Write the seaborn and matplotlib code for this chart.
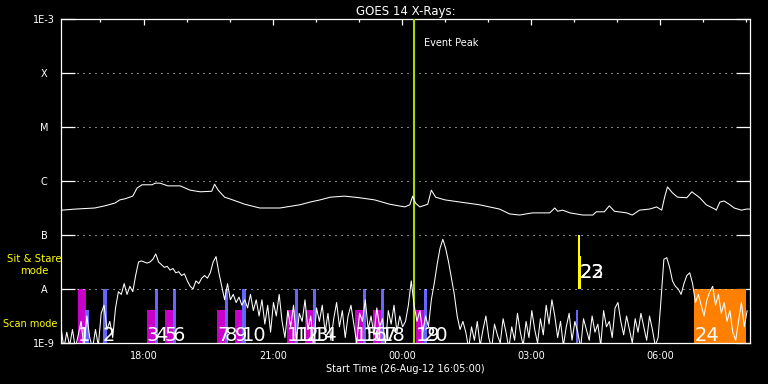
"""
GOES 14 X-ray flux with observation timeline, 26-Aug-12.
"""

import numpy as np
import matplotlib
matplotlib.use('Agg')
import matplotlib.pyplot as plt
import seaborn as sns

# time axis: minutes after the start time
START_CLOCK = 16 * 60 + 5
SPAN_MIN = 960
xlabel_text = 'Start Time (26-Aug-12 16:05:00)'
major_clock = ['18:00', '21:00', '00:00', '03:00', '06:00']
minor_clock = ['17:00', '19:00', '20:00', '22:00', '23:00', '01:00', '02:00',
               '04:00', '05:00', '07:00', '08:00']

# flux levels on the y axis
level_flux = [1e-9, 1e-8, 1e-7, 1e-6, 1e-5, 1e-4, 1e-3]
level_names = ['1E-9', 'A', 'B', 'C', 'M', 'X', '1E-3']

# long channel (1-8 A): minutes after start, log10 flux
long_min = [1, 20, 47, 61, 75, 82, 89, 100, 106, 113, 127, 131, 138, 149, 166,
            180, 194, 210, 214, 219, 228, 235, 256, 277, 305, 333, 347, 361,
            375, 395, 416, 437, 458, 479, 486, 490, 494, 500, 511, 516, 522,
            535, 556, 583, 611, 625, 639, 657, 681, 688, 692, 699, 709, 727,
            741, 746, 757, 764, 771, 788, 796, 806, 820, 830, 837, 841, 845,
            852, 859, 872, 879, 885, 890, 899, 911, 913, 918, 924, 931, 938,
            948, 955, 960]
long_log = [-6.54, -6.52, -6.50, -6.46, -6.41, -6.35, -6.33, -6.28, -6.13,
            -6.07, -6.07, -6.04, -6.04, -6.09, -6.09, -6.17, -6.20, -6.19,
            -6.06, -6.17, -6.30, -6.33, -6.43, -6.50, -6.50, -6.44, -6.39,
            -6.35, -6.30, -6.28, -6.31, -6.35, -6.43, -6.48, -6.44, -6.28,
            -6.41, -6.48, -6.43, -6.17, -6.30, -6.35, -6.39, -6.44, -6.52,
            -6.61, -6.63, -6.59, -6.59, -6.50, -6.56, -6.54, -6.59, -6.63,
            -6.63, -6.57, -6.57, -6.46, -6.56, -6.59, -6.63, -6.54, -6.52,
            -6.48, -6.54, -6.30, -6.11, -6.22, -6.30, -6.31, -6.20, -6.26,
            -6.31, -6.44, -6.52, -6.54, -6.39, -6.37, -6.43, -6.50, -6.54,
            -6.52, -6.52]

# short channel (0.5-4 A): one reading every 4 minutes, log10 flux
short_step = 4
short_log = [
    -8.7, -9.1, -8.8, -9.05, -8.75, -9.1, -8.85,
    -8.6, -9.1, -8.5, -8.9, -9.1, -8.75, -9.05,
    -8.45, -8.3, -8.75, -8.6, -8.9, -8.35, -8.05, -8.1, -7.9, -8.1, -7.95,
    -8.05, -7.75, -7.5, -7.48, -7.5, -7.52, -7.5, -7.45, -7.35, -7.5, -7.55,
    -7.6, -7.58, -7.65, -7.62, -7.7, -7.68, -7.75, -7.72, -7.85, -7.95, -8.0,
    -7.85, -7.9, -7.8, -7.75, -7.8, -7.7, -7.5, -7.4, -7.7, -7.95, -8.2,
    -7.9, -8.2, -8.1, -8.25, -8.15, -8.3, -8.2, -8.35, -8.1, -8.4, -8.2,
    -8.5, -8.2, -8.65, -8.3, -8.8, -8.25, -8.5, -8.1, -8.6, -8.9, -8.4,
    -8.7, -8.3, -8.95, -8.45, -8.6, -8.2, -8.75, -8.5, -9.1, -8.35, -8.6,
    -8.3, -8.8, -8.45, -8.95, -8.55, -8.25, -8.7, -8.4, -8.9, -8.5, -8.3,
    -8.65, -9.0, -8.45, -8.6, -8.2, -8.75, -8.5, -8.85, -8.35, -8.7, -8.55,
    -9.05, -8.4, -8.65, -8.3, -8.8, -8.5, -8.7,
    -8.6, -8.3, -7.85, -8.3, -8.6, -8.4, -8.8, -8.5, -8.7, -8.2, -7.9,
    -7.55, -7.25, -7.08, -7.25, -7.5, -7.8, -8.1, -8.5, -8.75, -8.6,
    -8.8, -9.1, -8.7, -8.95, -8.6, -9.05, -8.75, -8.5, -8.9, -9.1, -8.65,
    -8.85, -9.0, -8.55, -8.8, -9.1, -8.7, -8.95, -8.45, -8.8, -9.05, -8.6,
    -8.9, -8.4, -8.75, -9.0, -8.55, -8.85, -8.3, -8.65, -8.2, -8.5, -8.9,
    -8.6, -9.05, -8.7, -8.45, -8.95, -8.6, -8.8, -9.1, -8.55, -8.75, -8.95,
    -8.5, -8.8, -8.65, -9.05, -8.4, -8.7, -8.6, -8.9, -8.35, -8.25, -8.6,
    -8.85, -8.5, -8.75, -9.0, -8.55, -8.8, -8.45, -8.7, -8.95, -8.5, -8.75,
    -9.05,
    -8.9, -8.2, -7.45, -7.42, -7.6, -7.85, -7.95, -8.0, -8.1, -7.9, -7.75,
    -7.7, -7.9, -8.25, -8.1, -8.3, -8.5, -8.2, -8.05, -7.95, -8.3, -8.1,
    -8.45, -8.25, -8.6, -8.4, -8.8, -8.95, -8.6, -8.25, -8.7, -8.4,
]

# observation blocks: start/end minutes, bottom/top log10 flux, colour key
obs_start = [23.7, 33.4, 58.5, 119.7, 130.9, 144.8, 155.9, 217.2, 228.3,
             242.2, 252.0, 314.6, 325.8, 339.7, 350.8, 409.3, 420.4, 434.4,
             445.5, 494.2, 505.4, 717.0, 720.5, 722.0, 882.6]
obs_end = [34.8, 39.0, 64.0, 130.9, 135.0, 155.9, 160.0, 228.3, 232.5,
           252.0, 257.6, 325.8, 330.0, 350.8, 355.0, 420.4, 424.6, 445.5,
           449.7, 505.4, 509.5, 721.0, 723.8, 724.8, 955.0]
obs_bottom = [-9.0] * 22 + [-8.0, -8.0, -9.0]
obs_top = [-8.0, -8.39, -8.0, -8.39, -8.0, -8.39, -8.0, -8.39, -8.0, -8.39,
           -8.0, -8.39, -8.0, -8.39, -8.0, -8.39, -8.0, -8.39, -8.0, -8.39,
           -8.0, -8.39, -7.0, -7.39, -8.0]
obs_kind = ['raster', 'scan', 'scan'] + ['raster', 'scan'] * 9 + \
           ['scan', 'sit', 'sit', 'other']
kind_colors = {'raster': '#C800C8', 'scan': '#6666FF',
               'sit': '#FFFF00', 'other': '#FF8000'}

# observation numbers
label_text = [str(n) for n in range(1, 21)] + ['22', '23', '24']
label_min = [23.7, 58.5, 119.7, 130.9, 144.8, 155.9, 217.2, 228.3, 242.2,
             252.0, 314.6, 325.8, 339.7, 350.8, 409.3, 420.4, 434.4, 445.5,
             494.2, 505.4, 722.0, 722.0, 882.6]
label_log = [-8.96] * 20 + [-7.69, -7.69, -8.96]
label_va = ['baseline'] * 20 + ['center', 'center', 'baseline']

event_peak_min = 491.4


def clock_to_min(s):
    h, m = s.split(':')
    return (int(h) * 60 + int(m) - START_CLOCK) % 1440


sns.set_theme(style='dark')
plt.rcParams.update({
    'figure.facecolor': 'black', 'axes.facecolor': 'black',
    'axes.edgecolor': 'white', 'text.color': 'white',
    'axes.labelcolor': 'white', 'xtick.color': 'white',
    'ytick.color': 'white', 'axes.linewidth': 0.9,
})
plt.rcParams['font.family'] = ['DejaVu Sans']

fig = plt.figure(figsize=(7.68, 3.84), dpi=100)
ax = fig.add_axes([61 / 768, 41 / 384, 689 / 768, 324 / 384])
ax.set_yscale('log')
ax.set_xlim(0, SPAN_MIN)
ax.set_ylim(1e-9, 1e-3)

# observation blocks
for s, e, b, t, k in zip(obs_start, obs_end, obs_bottom, obs_top, obs_kind):
    ax.bar(s, 10 ** t - 10 ** b, bottom=10 ** b, width=e - s, align='edge',
           color=kind_colors[k], linewidth=0, zorder=1)

# dotted level lines
ax.hlines(level_flux[1:-1], 22, 940, colors='white', linewidth=0.72,
          linestyles=(0, (1, 5)), zorder=2)

# event peak
ax.axvline(event_peak_min, color='#A8D800', linewidth=1.5, zorder=3)
ax.text(505.4, 10 ** -3.44, 'Event Peak', fontsize=7, va='center',
        ha='left', color='white')

# flux curves
short_min = np.arange(len(short_log)) * short_step
sns.lineplot(x=long_min, y=10 ** np.array(long_log), ax=ax, color='white',
             linewidth=0.75, estimator=None, sort=False, zorder=4)
sns.lineplot(x=short_min, y=10 ** np.array(short_log), ax=ax, color='white',
             linewidth=0.75, estimator=None, sort=False, zorder=4)

for txt, m, lg, va in zip(label_text, label_min, label_log, label_va):
    ax.text(m, 10 ** lg, txt, fontsize=14, va=va, ha='left', color='white',
            family=['Liberation Sans Narrow', 'DejaVu Sans'], zorder=5)

# axes
ax.set_yticks(level_flux)
ax.set_yticklabels(level_names, ha='center', fontsize=7)
ax.yaxis.set_minor_locator(matplotlib.ticker.NullLocator())
ax.tick_params(axis='y', which='major', direction='in', length=10,
               width=0.9, left=True, right=True, pad=12)

ax.set_xticks([clock_to_min(c) for c in major_clock])
ax.set_xticklabels(major_clock, fontsize=7)
ax.set_xticks([clock_to_min(c) for c in minor_clock], minor=True)
ax.tick_params(axis='x', which='both', direction='in', bottom=False,
               top=True, labelbottom=True, labeltop=False, width=0.9)
ax.tick_params(axis='x', which='major', length=4.5, pad=6)
ax.tick_params(axis='x', which='minor', length=2.5)
ax.set_xlabel(xlabel_text, fontsize=7, labelpad=2)
ax.set_ylabel('')
ax.grid(False)
ax.set_title('GOES 14 X-Rays:', fontsize=8.5, pad=3, color='white')

fig.text(34 / 768, 1 - 265 / 384, 'Sit & Stare\nmode', color='#FFFF00',
         fontsize=7.3, ha='center', va='center', linespacing=1.3)
fig.text(30 / 768, 1 - 324 / 384, 'Scan mode', color='#FFFF00',
         fontsize=7, ha='center', va='center')

fig.savefig('out.png', dpi=100, facecolor='black')
